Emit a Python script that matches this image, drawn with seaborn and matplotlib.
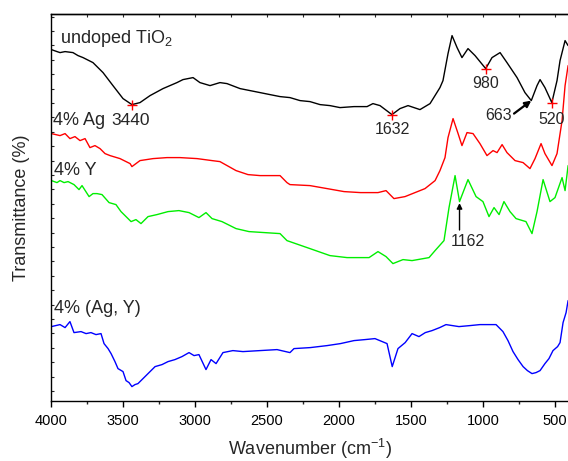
import numpy as np
import pandas as pd
import matplotlib
matplotlib.use("Agg")
import matplotlib.pyplot as plt
from matplotlib.ticker import MultipleLocator, FixedLocator
import seaborn as sns

# FTIR spectra (wavenumber in cm^-1, transmittance in arbitrary offset units)
undoped_wn = [4000, 3961, 3940, 3905, 3850, 3815, 3780, 3711, 3641, 3572, 3502, 3440,
              3384, 3314, 3224, 3127, 3085, 3015, 2967, 2897, 2828, 2779, 2688, 2549,
              2480, 2410, 2341, 2271, 2202, 2132, 2063, 1993, 1896, 1805, 1764, 1715,
              1632, 1576, 1520, 1437, 1367, 1298, 1277, 1242, 1214, 1179, 1145, 1103,
              1054, 980, 936, 880, 832, 762, 707, 663, 623, 602, 568, 520, 484, 463,
              428, 407]
undoped_t = [351, 349, 348, 349, 348, 345, 343, 338, 328, 315, 302, 296,
             298, 305, 312, 318, 321, 323, 318, 315, 318, 317, 312, 308,
             306, 304, 303, 300, 299, 296, 295, 293, 294, 294, 297, 295,
             286, 292, 295, 291, 297, 313, 320, 347, 365, 353, 343, 352,
             345, 332, 343, 348, 338, 323, 308, 300, 315, 321, 313, 298, 320, 340,
             360, 355]

ag_wn = [4000, 3940, 3905, 3871, 3836, 3801, 3766, 3732, 3697, 3662, 3627, 3592,
         3523, 3453, 3440, 3384, 3293, 3196, 3106, 2987, 2883, 2828, 2716, 2633,
         2549, 2410, 2362, 2341, 2202, 2083, 1965, 1850, 1729, 1673, 1618, 1541,
         1402, 1332, 1298, 1263, 1242, 1207, 1172, 1145, 1110, 1068, 1020, 971,
         929, 901, 866, 832, 776, 720, 672, 637, 595, 568, 519, 484, 449, 428, 407]
ag_t = [267, 265, 267, 262, 264, 260, 262, 253, 255, 252, 247, 245,
        242, 237, 234, 240, 242, 243, 243, 242, 240, 239, 230, 226,
        225, 225, 218, 216, 215, 212, 209, 208, 208, 210, 202, 204,
        212, 220, 230, 243, 263, 282, 267, 255, 268, 267, 257, 245,
        250, 248, 256, 248, 240, 238, 232, 242, 257, 247, 235, 247, 280, 315, 335]

y_wn = [4000, 3961, 3940, 3912, 3884, 3843, 3808, 3787, 3738, 3711, 3683, 3648,
        3599, 3551, 3516, 3481, 3446, 3412, 3377, 3328, 3266, 3189, 3113, 3043,
        2974, 2925, 2883, 2814, 2716, 2626, 2410, 2362, 2202, 2063, 1944, 1791,
        1729, 1673, 1625, 1555, 1492, 1374, 1332, 1270, 1235, 1193, 1162, 1103,
        1047, 999, 957, 922, 887, 853, 811, 769, 700, 658, 623, 581, 533, 498,
        449, 428, 407]
y_t = [220, 218, 220, 218, 219, 216, 211, 215, 204, 207, 207, 206,
       198, 196, 189, 184, 179, 181, 177, 184, 186, 189, 190, 188,
       183, 188, 182, 179, 172, 169, 167, 160, 152, 145, 143, 143,
       149, 144, 137, 141, 140, 143, 150, 160, 193, 225, 199, 221,
       204, 199, 184, 193, 186, 199, 189, 182, 179, 167, 189, 221, 199, 203,
       223, 210, 235]

agy_wn = [4000, 3940, 3905, 3871, 3843, 3794, 3759, 3725, 3690, 3655, 3634, 3606,
          3585, 3558, 3537, 3502, 3481, 3460, 3440, 3419, 3398, 3363, 3328, 3279,
          3231, 3189, 3141, 3092, 3043, 3008, 2974, 2925, 2890, 2855, 2807, 2738,
          2668, 2550, 2431, 2341, 2313, 2200, 2083, 1990, 1896, 1820, 1750, 1666,
          1630, 1590, 1540, 1492, 1444, 1400, 1353, 1300, 1256, 1166, 1090, 1020,
          908, 860, 825, 790, 755, 720, 690, 658, 630, 602, 568, 540, 512, 480,
          463, 442, 421, 407]
agy_t = [74, 76, 73, 79, 68, 69, 67, 68, 66, 67, 57, 52,
         47, 39, 32, 29, 20, 18, 14, 16, 17, 22, 27, 34,
         36, 39, 41, 44, 48, 45, 46, 31, 41, 37, 48, 50,
         49, 50, 51, 48, 52, 53, 55, 57, 60, 61, 62, 57,
         34, 52, 58, 67, 64, 68, 70, 73, 76, 74, 75, 76,
         76, 69, 60, 49, 41, 34, 30, 27, 28, 30, 37, 42, 50, 54,
         58, 78, 88, 100]

series_names = ["undoped TiO$_\\mathrm{2}$", "4% Ag", "4% Y", "4% (Ag, Y)"]
series_colors = ["#000000", "#ff0000", "#00ee00", "#0000ff"]

marked_peaks = [3440, 1632, 980, 520]
marked_t = [296, 286, 332, 298]

frames = []
for name, wn, t in zip(series_names,
                       [undoped_wn, ag_wn, y_wn, agy_wn],
                       [undoped_t, ag_t, y_t, agy_t]):
    frames.append(pd.DataFrame({"wavenumber": wn, "T": t, "sample": name}))
df = pd.concat(frames, ignore_index=True)

sns.set_style("ticks")
plt.rcParams["font.family"] = ["Liberation Sans", "DejaVu Sans"]
plt.rcParams["mathtext.fontset"] = "custom"
plt.rcParams["mathtext.rm"] = "Liberation Sans"
plt.rcParams["mathtext.it"] = "Liberation Sans:italic"
plt.rcParams["mathtext.default"] = "regular"

fig = plt.figure(figsize=(5.68, 4.61), dpi=100)
ax = fig.add_axes([51.4 / 568, 60.4 / 461, 517.7 / 568, 386.6 / 461])

sns.lineplot(data=df, x="wavenumber", y="T", hue="sample", palette=series_colors,
             hue_order=series_names, estimator=None, sort=False, linewidth=1.0,
             legend=False, ax=ax)

ax.plot(marked_peaks, marked_t, linestyle="none", marker="+", color="red",
        markersize=7, markeredgewidth=1.0)

ax.set_xlim(4000, 400)
ax.set_ylim(0, 386.6)

# sample labels
lab_fs = 13
ax.text(3940, 357.6, "undoped TiO$_\\mathrm{2}$", fontsize=lab_fs, ha="left", va="baseline")
ax.text(3989, 275.6, "4% Ag", fontsize=lab_fs, ha="left", va="baseline")
ax.text(3982, 225.6, "4% Y", fontsize=lab_fs, ha="left", va="baseline")
ax.text(3982, 87.8, "4% (Ag, Y)", fontsize=lab_fs, ha="left", va="baseline")

# peak labels
pk_fs = 11.5
ax.text(3580, 275.6, "3440", fontsize=12.5, ha="left", va="baseline")
ax.text(1631, 266.6, "1632", fontsize=pk_fs, ha="center", va="baseline")
ax.text(979, 312.6, "980", fontsize=pk_fs, ha="center", va="baseline")
ax.text(890, 280.6, "663", fontsize=pk_fs, ha="center", va="baseline")
ax.text(519, 276.6, "520", fontsize=pk_fs, ha="center", va="baseline")
ax.text(1103, 155, "1162", fontsize=pk_fs, ha="center", va="baseline")

ax.annotate("", xy=(663, 300), xytext=(783, 287),
            arrowprops=dict(arrowstyle="-|>", color="black", lw=1.6,
                            mutation_scale=9, shrinkA=0, shrinkB=0))
ax.annotate("", xy=(1162, 197.5), xytext=(1162, 170.6),
            arrowprops=dict(arrowstyle="-|>", color="black", lw=1.0,
                            mutation_scale=8, shrinkA=0, shrinkB=0))

# axes styling
for side in ["left", "bottom", "top", "right"]:
    ax.spines[side].set_linewidth(1.0)
    ax.spines[side].set_color("black")

ax.xaxis.set_major_locator(MultipleLocator(500))
ax.xaxis.set_minor_locator(MultipleLocator(250))
ax.tick_params(axis="x", which="major", direction="out", length=4.3, width=1.0,
               labelsize=10.5, pad=5.0, colors="black")
ax.tick_params(axis="x", which="minor", direction="out", length=2.0, width=1.0)
ax.yaxis.set_major_locator(FixedLocator(np.arange(9.6, 386, 14.4)))
ax.tick_params(axis="y", which="major", direction="in", length=2.5, width=0.8,
               labelleft=False, left=True, right=False)

top = ax.secondary_xaxis("top")
top.xaxis.set_major_locator(MultipleLocator(500))
top.xaxis.set_minor_locator(MultipleLocator(250))
top.tick_params(axis="x", which="both", direction="in", length=2.0, width=0.8,
                labeltop=False)
top.spines["top"].set_linewidth(1.0)

ax.set_xlabel("Wavenumber (cm$^{\\mathrm{-1}}$)", fontsize=13)
ax.xaxis.label.set_va("center")
ax.xaxis.set_label_coords(0.5, -0.125)
ax.set_ylabel("Transmittance (%)", fontsize=13)
ax.yaxis.label.set_va("center")
ax.yaxis.set_label_coords(-0.0587, 0.5)

fig.savefig("out.png", dpi=100)
